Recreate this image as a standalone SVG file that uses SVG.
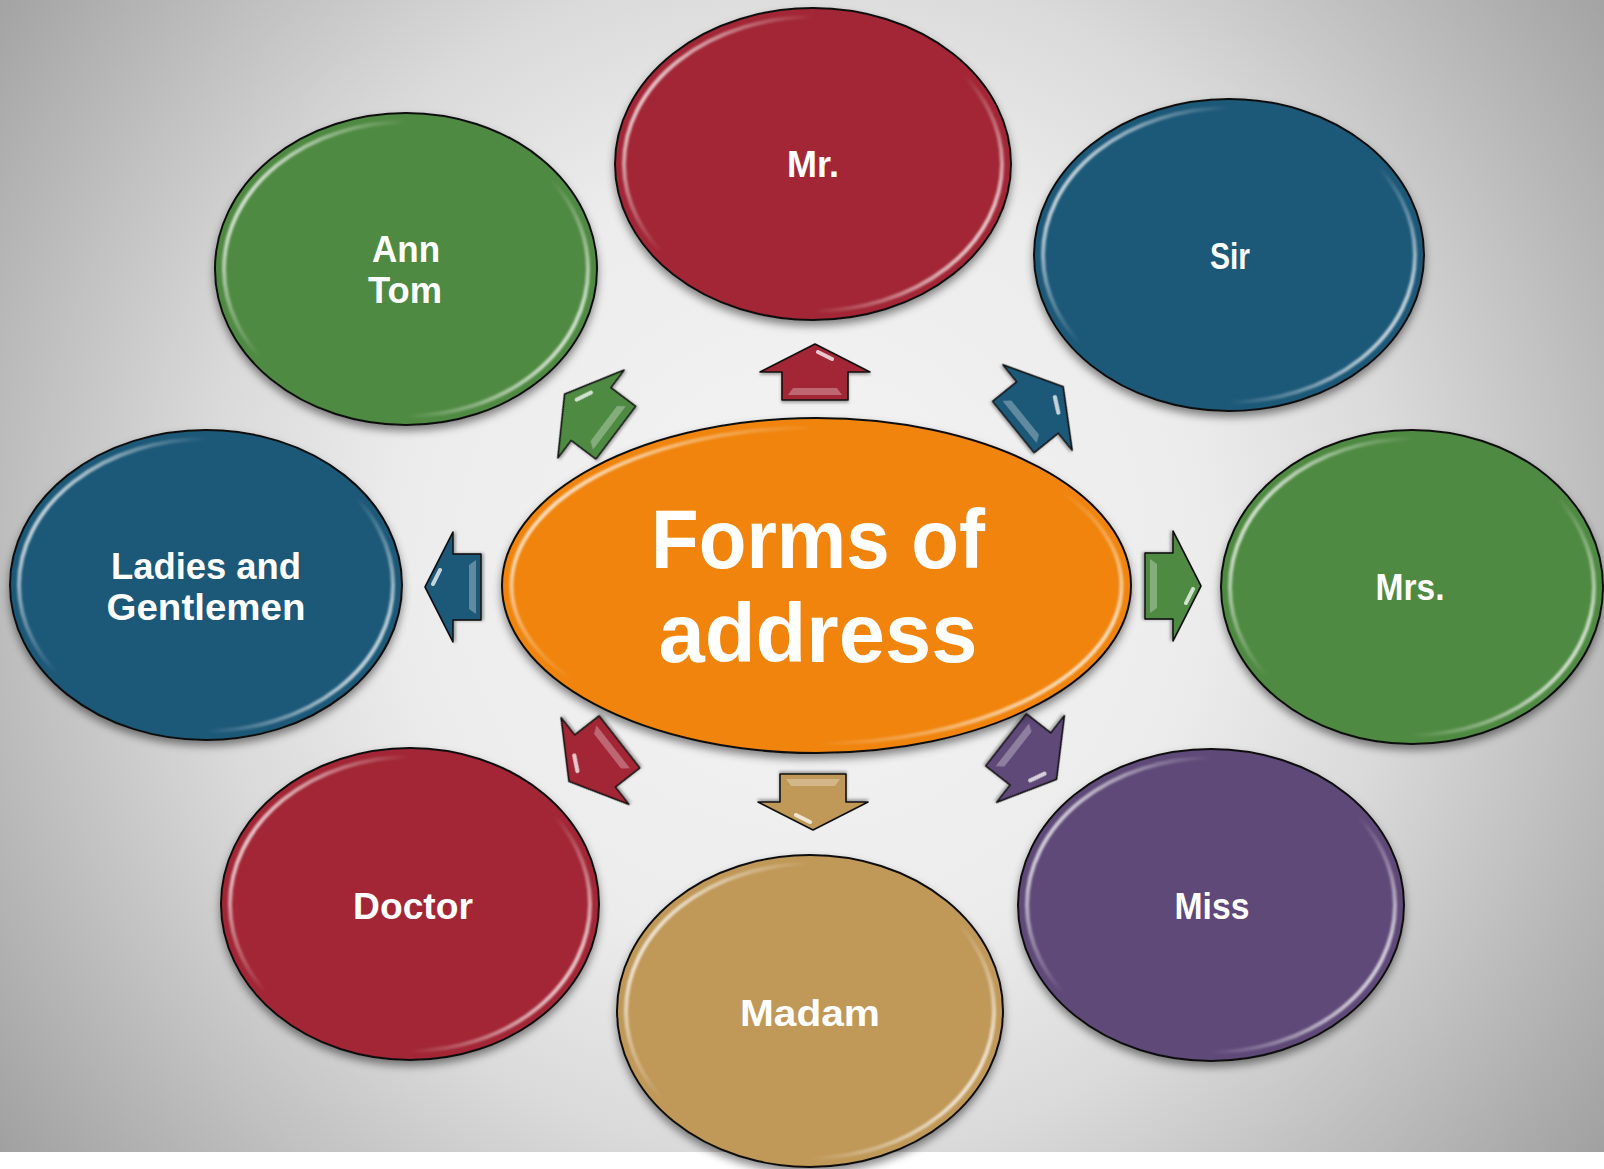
<svg xmlns="http://www.w3.org/2000/svg" width="1604" height="1169" viewBox="0 0 1604 1169">
<defs>
  <radialGradient id="bg" gradientUnits="userSpaceOnUse" cx="802" cy="560" r="1000">
    <stop offset="0" stop-color="#f4f4f4"/>
    <stop offset="0.4" stop-color="#ececec"/>
    <stop offset="0.6" stop-color="#dadada"/>
    <stop offset="0.8" stop-color="#bdbdbd"/>
    <stop offset="1" stop-color="#a0a0a0"/>
  </radialGradient>
  <linearGradient id="rim" x1="0" y1="0.25" x2="1" y2="0.75">
    <stop offset="0" stop-color="#fff" stop-opacity="0.9"/>
    <stop offset="0.16" stop-color="#fff" stop-opacity="0.35"/>
    <stop offset="0.3" stop-color="#fff" stop-opacity="0"/>
    <stop offset="0.7" stop-color="#fff" stop-opacity="0"/>
    <stop offset="0.84" stop-color="#fff" stop-opacity="0.35"/>
    <stop offset="1" stop-color="#fff" stop-opacity="0.9"/>
  </linearGradient>
  <filter id="shadow" x="-10%" y="-10%" width="120%" height="130%">
    <feDropShadow dx="0" dy="5" stdDeviation="4" flood-color="#000" flood-opacity="0.45"/>
  </filter>
  <filter id="soft" x="-5%" y="-5%" width="110%" height="110%">
    <feGaussianBlur stdDeviation="1.3"/>
  </filter>
  <filter id="ashadow" x="-30%" y="-30%" width="160%" height="160%">
    <feDropShadow dx="0" dy="2" stdDeviation="1.5" flood-color="#000" flood-opacity="0.35"/>
  </filter>
  <path id="arrowO" d="M0,-28 L55,0 L33,0 L33,28 L-33,28 L-33,0 L-55,0 Z"/>
  <path id="arrowD" d="M0,-33 L55,0 L33,0 L33,31 L-33,31 L-33,0 L-55,0 Z"/>
  <g id="arrowHl">
    <line x1="3" y1="-20" x2="17" y2="-13" stroke="#fff" stroke-width="4" stroke-linecap="round" opacity="0.75"/>
    <polygon points="-27,23 27,23 22,16 -22,16" fill="#fff" opacity="0.3"/>
  </g>
</defs>
<style>
  .base { stroke:#111; stroke-width:2; }
  .rim { fill:none; stroke:url(#rim); stroke-width:4; filter:url(#soft); }
  .label { font-family:"Liberation Sans", Arial, sans-serif; font-weight:bold; font-size:36px; fill:#ffffff; text-anchor:middle; }
  .title { font-family:"Liberation Sans", Arial, sans-serif; font-weight:bold; font-size:84px; fill:#ffffff; text-anchor:middle; }
  .abody { stroke:#111; stroke-width:1.6; stroke-linejoin:round; }
  .red { fill:#a22536; }
  .blue { fill:#1e5878; }
  .green { fill:#4f8a43; }
  .purple { fill:#5e4878; }
  .tan { fill:#c09858; }
  .orange { fill:#f0840f; }
</style>

<rect x="0" y="0" width="1604" height="1152" fill="url(#bg)"/>
<rect x="0" y="1152" width="1604" height="17" fill="#ffffff"/>

<g id="connectors">
  <g transform="translate(815,372)" filter="url(#ashadow)"><use href="#arrowO" class="abody red"/><use href="#arrowHl"/></g>
  <g transform="translate(1037.5,407.5) rotate(51)" filter="url(#ashadow)"><use href="#arrowD" class="abody blue"/><use href="#arrowHl"/></g>
  <g transform="translate(1173,586) rotate(90)" filter="url(#ashadow)"><use href="#arrowO" class="abody green"/><use href="#arrowHl"/></g>
  <g transform="translate(1030.5,759) rotate(128)" filter="url(#ashadow)"><use href="#arrowD" class="abody purple"/><use href="#arrowHl"/></g>
  <g transform="translate(813,802) rotate(180)" filter="url(#ashadow)"><use href="#arrowO" class="abody tan"/><use href="#arrowHl"/></g>
  <g transform="translate(595,761) rotate(-128)" filter="url(#ashadow)"><use href="#arrowD" class="abody red"/><use href="#arrowHl"/></g>
  <g transform="translate(453,587) rotate(-90)" filter="url(#ashadow)"><use href="#arrowO" class="abody blue"/><use href="#arrowHl"/></g>
  <g transform="translate(591,414) rotate(-53)" filter="url(#ashadow)"><use href="#arrowD" class="abody green"/><use href="#arrowHl"/></g>
</g>

<g id="node-mr">
  <ellipse cx="813" cy="164" rx="198" ry="156" class="base red" filter="url(#shadow)"/>
  <ellipse cx="813" cy="164" rx="189" ry="147" class="rim"/>
  <text x="813" y="177" class="label" textLength="52" lengthAdjust="spacingAndGlyphs">Mr.</text>
</g>
<g id="node-sir">
  <ellipse cx="1229" cy="255" rx="195" ry="156" class="base blue" filter="url(#shadow)"/>
  <ellipse cx="1229" cy="255" rx="186" ry="147" class="rim"/>
  <text x="1230" y="269" class="label" textLength="40" lengthAdjust="spacingAndGlyphs">Sir</text>
</g>
<g id="node-anntom">
  <ellipse cx="406" cy="269" rx="191" ry="156" class="base green" filter="url(#shadow)"/>
  <ellipse cx="406" cy="269" rx="182" ry="147" class="rim"/>
  <text x="406" y="262" class="label" textLength="68" lengthAdjust="spacingAndGlyphs">Ann</text>
  <text x="405" y="303" class="label" textLength="74" lengthAdjust="spacingAndGlyphs">Tom</text>
</g>
<g id="node-ladies">
  <ellipse cx="206" cy="585" rx="196" ry="155" class="base blue" filter="url(#shadow)"/>
  <ellipse cx="206" cy="585" rx="187" ry="146" class="rim"/>
  <text x="206" y="579" class="label" textLength="190" lengthAdjust="spacingAndGlyphs">Ladies and</text>
  <text x="206" y="620" class="label" textLength="199" lengthAdjust="spacingAndGlyphs">Gentlemen</text>
</g>
<g id="node-mrs">
  <ellipse cx="1412" cy="587" rx="191" ry="157" class="base green" filter="url(#shadow)"/>
  <ellipse cx="1412" cy="587" rx="182" ry="148" class="rim"/>
  <text x="1410" y="600" class="label" textLength="69" lengthAdjust="spacingAndGlyphs">Mrs.</text>
</g>
<g id="node-doctor">
  <ellipse cx="410" cy="904" rx="189" ry="156" class="base red" filter="url(#shadow)"/>
  <ellipse cx="410" cy="904" rx="180" ry="147" class="rim"/>
  <text x="413" y="919" class="label" textLength="120" lengthAdjust="spacingAndGlyphs">Doctor</text>
</g>
<g id="node-miss">
  <ellipse cx="1211" cy="905" rx="193" ry="156" class="base purple" filter="url(#shadow)"/>
  <ellipse cx="1211" cy="905" rx="184" ry="147" class="rim"/>
  <text x="1212" y="919" class="label" textLength="75" lengthAdjust="spacingAndGlyphs">Miss</text>
</g>
<g id="node-madam">
  <ellipse cx="810" cy="1011" rx="193" ry="156" class="base tan" filter="url(#shadow)"/>
  <ellipse cx="810" cy="1011" rx="184" ry="147" class="rim"/>
  <text x="810" y="1026" class="label" textLength="140" lengthAdjust="spacingAndGlyphs">Madam</text>
</g>
<g id="node-center">
  <ellipse cx="816.5" cy="585.5" rx="314.5" ry="167.5" class="base orange" filter="url(#shadow)"/>
  <ellipse cx="816.5" cy="585.5" rx="305" ry="158" class="rim"/>
  <text x="818" y="568" class="title" textLength="334" lengthAdjust="spacingAndGlyphs">Forms of</text>
  <text x="818" y="662" class="title" textLength="319" lengthAdjust="spacingAndGlyphs">address</text>
</g>
</svg>
